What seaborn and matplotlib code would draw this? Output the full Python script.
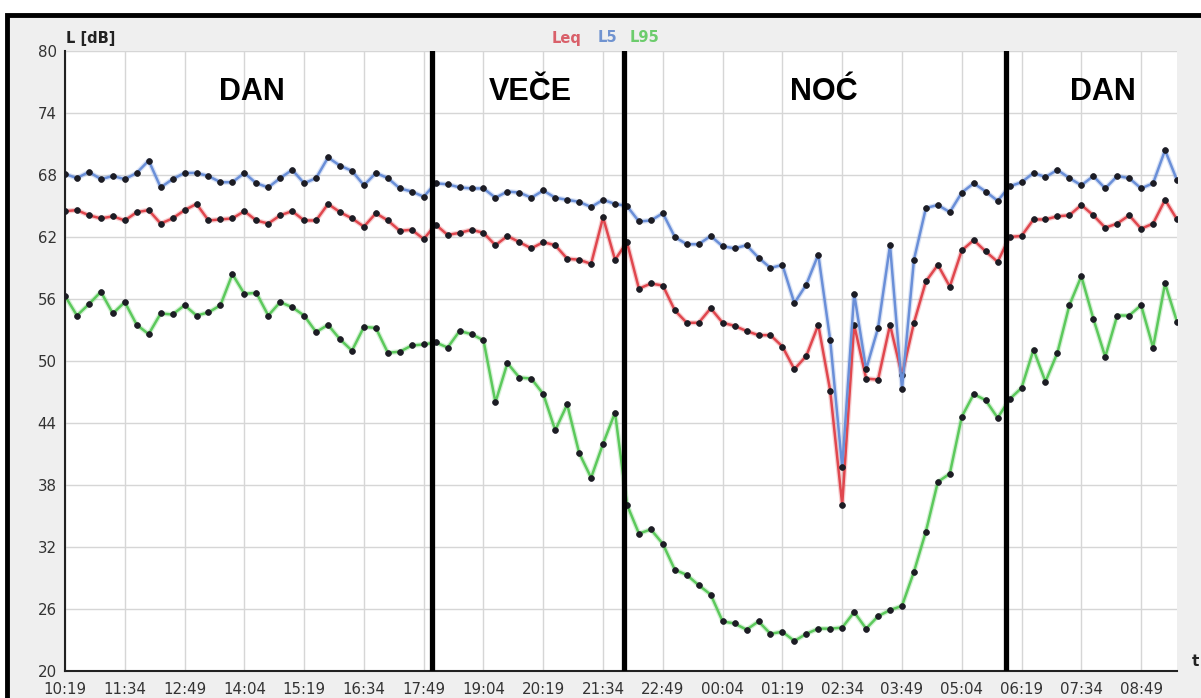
import numpy as np
import pandas as pd
import matplotlib
matplotlib.use("Agg")
import matplotlib.pyplot as plt
import seaborn as sns
from matplotlib.patches import Rectangle

# measurement every 15 min, starting 10:19
start_time = "10:19"
tick_labels = ["10:19", "11:34", "12:49", "14:04", "15:19", "16:34", "17:49",
               "19:04", "20:19", "21:34", "22:49", "00:04", "01:19", "02:34",
               "03:49", "05:04", "06:19", "07:34", "08:49"]

leq = [64.5, 64.6, 64.1, 63.8, 64.0, 63.6, 64.4, 64.6, 63.3, 63.8,
       64.6, 65.2, 63.6, 63.7, 63.8, 64.5, 63.6, 63.3, 64.1, 64.5,
       63.6, 63.6, 65.2, 64.4, 63.8, 63.0, 64.3, 63.6, 62.6, 62.7,
       61.8, 63.2, 62.2, 62.4, 62.7, 62.4, 61.2, 62.1, 61.5, 60.9,
       61.5, 61.2, 59.9, 59.8, 59.4, 63.9, 59.8, 61.5, 57.0, 57.5,
       57.3, 54.9, 53.7, 53.7, 55.1, 53.7, 53.4, 52.9, 52.5, 52.5,
       51.4, 49.2, 50.5, 53.5, 47.1, 36.1, 53.5, 48.3, 48.2, 53.5,
       48.6, 53.7, 57.7, 59.3, 57.2, 60.7, 61.7, 60.6, 59.6, 62.0,
       62.1, 63.7, 63.7, 64.0, 64.1, 65.1, 64.1, 62.9, 63.3, 64.1,
       62.8, 63.3, 65.6, 63.7]

l5 = [68.1, 67.7, 68.3, 67.6, 67.9, 67.6, 68.2, 69.4, 66.8, 67.6,
      68.2, 68.2, 67.9, 67.3, 67.3, 68.2, 67.2, 66.8, 67.7, 68.5,
      67.2, 67.7, 69.7, 68.9, 68.4, 67.0, 68.2, 67.7, 66.7, 66.4,
      65.9, 67.2, 67.1, 66.8, 66.7, 66.7, 65.8, 66.4, 66.3, 65.8,
      66.5, 65.8, 65.6, 65.4, 64.9, 65.6, 65.2, 65.0, 63.5, 63.6,
      64.3, 62.0, 61.3, 61.3, 62.1, 61.1, 60.9, 61.2, 60.0, 59.0,
      59.3, 55.6, 57.4, 60.3, 52.0, 39.7, 56.5, 49.2, 53.2, 61.2,
      47.3, 59.8, 64.8, 65.1, 64.4, 66.3, 67.2, 66.4, 65.5, 66.9,
      67.3, 68.2, 67.8, 68.5, 67.7, 67.0, 67.9, 66.7, 67.9, 67.7,
      66.7, 67.2, 70.4, 67.5]

l95 = [56.3, 54.4, 55.5, 56.7, 54.6, 55.7, 53.5, 52.6, 54.6, 54.5,
       55.4, 54.4, 54.7, 55.4, 58.4, 56.5, 56.6, 54.4, 55.7, 55.2,
       54.4, 52.8, 53.5, 52.1, 51.0, 53.3, 53.2, 50.8, 50.9, 51.5,
       51.6, 51.8, 51.3, 52.9, 52.6, 52.0, 46.0, 49.8, 48.4, 48.3,
       46.8, 43.3, 45.8, 41.1, 38.7, 42.0, 45.0, 36.1, 33.3, 33.7,
       32.3, 29.8, 29.3, 28.3, 27.4, 24.8, 24.6, 24.0, 24.8, 23.6,
       23.8, 22.9, 23.6, 24.1, 24.1, 24.2, 25.7, 24.1, 25.3, 25.9,
       26.3, 29.6, 33.5, 38.3, 39.1, 44.6, 46.8, 46.2, 44.5, 46.3,
       47.4, 51.1, 48.0, 50.8, 55.4, 58.2, 54.1, 50.4, 54.4, 54.4,
       55.4, 51.3, 57.5, 53.8]

period_names = ["DAN", "VEČE", "NOĆ", "DAN"]
period_bounds = ["18:00", "22:00", "06:00"]

colors = {"Leq": "#e0474e", "L5": "#6a8fd8", "L95": "#5cc95c"}
text_colors = {"Leq": "#d9606a", "L5": "#7093d0", "L95": "#6ccc6c"}


def to_step(hhmm):
    h0, m0 = map(int, start_time.split(":"))
    h, m = map(int, hhmm.split(":"))
    return ((h * 60 + m) - (h0 * 60 + m0)) % (24 * 60) / 15.0


n = len(leq)
df = pd.DataFrame({"step": np.arange(n), "Leq": leq, "L5": l5, "L95": l95})
long_df = df.melt(id_vars="step", var_name="series", value_name="L")

sns.set_style("white")
plt.rcParams["font.family"] = ["DejaVu Sans"]

W, H = 1201, 698
fig = plt.figure(figsize=(W / 100, H / 100), dpi=100, facecolor="white")
# grey panel with a thick black frame (cropped at right/bottom)
fig.patches.append(Rectangle((7 / W, -0.1), 1.2, 1 - 15 / H + 0.1,
                             transform=fig.transFigure, facecolor="#efefef",
                             edgecolor="black", lw=3.5, zorder=-10))

ax = fig.add_axes([65 / W, 1 - 671 / H, (1177 - 65) / W, (671 - 51) / H])
ax.set_facecolor("white")

# soft halo under the lines
sns.lineplot(data=long_df, x="step", y="L", hue="series",
             hue_order=["Leq", "L5", "L95"], palette=colors,
             lw=3.6, alpha=0.25, legend=False, sort=False, ax=ax, zorder=2)
sns.lineplot(data=long_df, x="step", y="L", hue="series",
             hue_order=["Leq", "L5", "L95"], palette=colors,
             marker="o", markersize=4.2, markerfacecolor="#1c1c24",
             markeredgecolor="#1c1c24", markeredgewidth=0.5,
             lw=1.8, legend=False, sort=False, ax=ax, zorder=3)

for b in period_bounds:
    ax.axvline(to_step(b), color="black", lw=3.8, zorder=4)

label_x = [15.6, 38.9, 63.5, 86.8]
for name, x in zip(period_names, label_x):
    ax.text(x, 75.25, name, ha="center", va="baseline", fontsize=22,
            fontweight="bold", family="Liberation Sans", color="black", zorder=5)

ax.set_xlim(0, n - 1)
ax.set_ylim(20, 80)
ax.set_yticks(np.arange(20, 81, 6))
ax.set_xticks(np.arange(0, n, 5))
ax.set_xticklabels(tick_labels)
ax.set_xticks(np.arange(0, n, 1), minor=True)
ax.set_xlabel("")
ax.set_ylabel("")
ax.grid(True, which="major", color="#d6d6d6", lw=1.0)
ax.set_axisbelow(True)

ax.tick_params(axis="x", which="both", direction="in", length=5, width=1,
               color="#333333", labelsize=10.8, labelcolor="#333333", pad=8)
ax.tick_params(axis="y", direction="in", length=5, width=1,
               color="#333333", labelsize=10.8, labelcolor="#333333", pad=6)

for side in ["top", "right"]:
    ax.spines[side].set_visible(False)
for side in ["left", "bottom"]:
    ax.spines[side].set_color("#222222")
    ax.spines[side].set_linewidth(1.5)

fig.text(66 / W, 1 - 38 / H, "L [dB]", ha="left", va="center",
         fontsize=10.5, fontweight="bold", color="#222222")
fig.text(1192 / W, 1 - 662 / H, "t", ha="left", va="center",
         fontsize=11, fontweight="bold", color="#222222")

legend_x = {"Leq": 552, "L5": 598, "L95": 630}
for key, x in legend_x.items():
    fig.text(x / W, 1 - 38 / H, key, ha="left", va="center", fontsize=10.5,
             fontweight="bold", color=text_colors[key])

fig.savefig("out.png", dpi=100, facecolor=fig.get_facecolor())
